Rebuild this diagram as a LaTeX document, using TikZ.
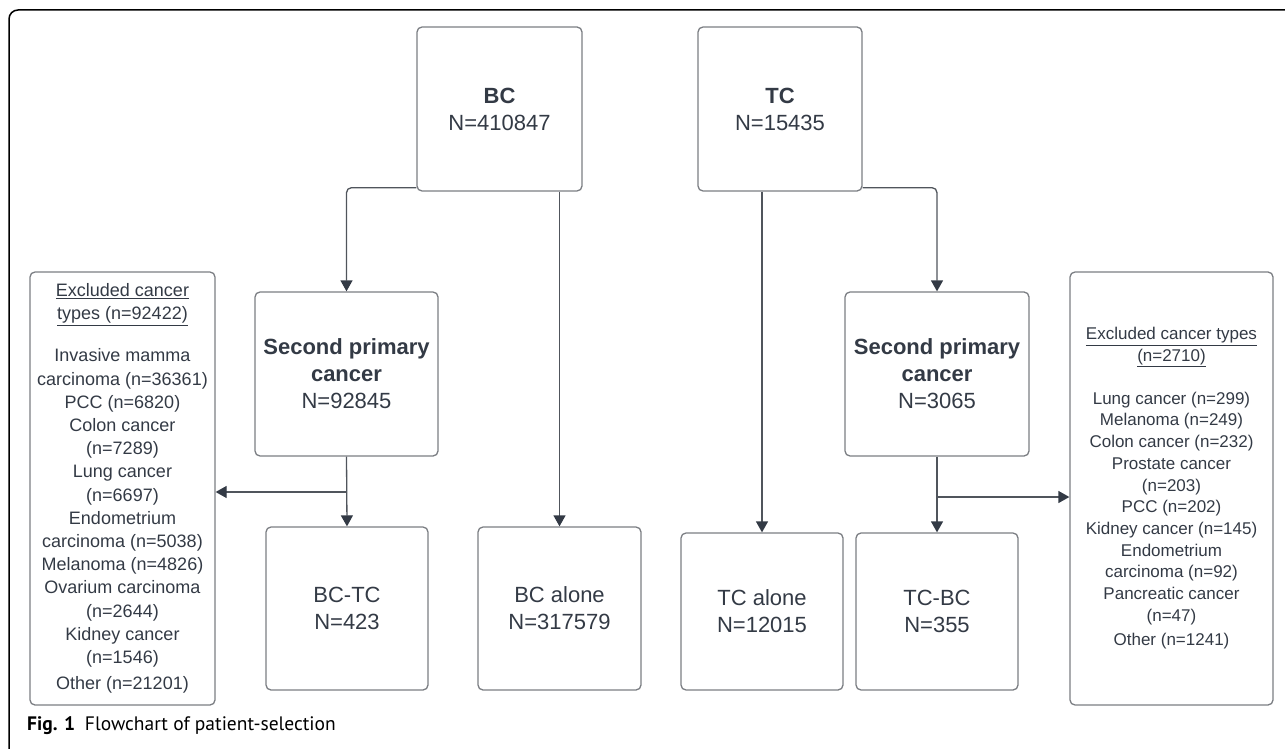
\documentclass[tikz,border=0pt]{standalone}
\usepackage{fontspec}
\setmainfont{Liberation Sans}
\newfontfamily\capfont{PT Sans}
\usetikzlibrary{arrows.meta}
\definecolor{ink}{HTML}{333A45}
\definecolor{edge}{HTML}{7B7E83}
\definecolor{wire}{HTML}{50555C}
\tikzset{
      stage/.style={draw=edge, line width=1.3, rounded corners=5pt, text=ink, align=center,
            inner sep=0pt, font=\fontsize{22}{27}\selectfont},
      excl/.style={draw=edge, line width=1.3, rounded corners=5pt, text=ink, align=center,
            inner sep=0pt},
      link/.style={draw=wire, line width=1.3, rounded corners=5pt,
            -{Triangle[length=11pt,width=12pt,color=ink]}},
}

\begin{document}
\begin{tikzpicture}[x=1pt, y=-1pt]

        \useasboundingbox (0,0) rectangle (1285,749);
        \draw[line width=1.5, rounded corners=9pt] (9,10) rectangle (1300,762);

        \node[stage, minimum width=165pt, minimum height=164pt] (bc) at (499.5,109) {\textbf{BC}\\N=410847};
        \node[stage, minimum width=164pt, minimum height=164pt] (tc) at (780,109) {\textbf{TC}\\N=15435};

        \node[stage, minimum width=183pt, minimum height=164pt] (spcl) at (346.5,374)
              {\textbf{Second primary}\\\textbf{cancer}\\N=92845};
        \node[stage, minimum width=184pt, minimum height=164pt] (spcr) at (937,374)
              {\textbf{Second primary}\\\textbf{cancer}\\N=3065};

        \node[stage, minimum width=162pt, minimum height=163pt] (bctc) at (347,608.5) {BC-TC\\N=423};
        \node[stage, minimum width=163pt, minimum height=163pt] (bcalone) at (559.5,608.5) {BC alone\\N=317579};
        \node[stage, minimum width=162pt, minimum height=157pt] (tcalone) at (762,611.5) {TC alone\\N=12015};
        \node[stage, minimum width=162pt, minimum height=157pt] (tcbc) at (937,611.5) {TC-BC\\N=355};

        \node[excl, minimum width=185pt, minimum height=433pt, font=\fontsize{18}{23.2}\selectfont] (exl) at (122.5,488.5)
              {\underline{Excluded cancer}\\\underline{types (n=92422)}\\[19pt]
               Invasive mamma\\carcinoma (n=36361)\\PCC (n=6820)\\Colon cancer\\(n=7289)\\Lung cancer\\(n=6697)\\
               Endometrium\\carcinoma (n=5038)\\Melanoma (n=4826)\\Ovarium carcinoma\\(n=2644)\\Kidney cancer\\
               (n=1546)\\[3pt]Other (n=21201)};
        \node[excl, minimum width=203pt, minimum height=433pt, font=\fontsize{17}{21.7}\selectfont] (exr) at (1171.5,488.5)
              {\underline{Excluded cancer types}\\\underline{(n=2710)}\\[21pt]
               Lung cancer (n=299)\\Melanoma (n=249)\\Colon cancer (n=232)\\Prostate cancer\\(n=203)\\PCC (n=202)\\
               Kidney cancer (n=145)\\Endometrium\\carcinoma (n=92)\\Pancreatic cancer\\(n=47)\\[3pt]Other (n=1241)};

        \coordinate (jl) at (347,492);
        \coordinate (jr) at (937,497);

        \draw[link] ([yshift=4pt]bc.south west) -| (spcl.north);
        \draw[link] (bcalone.north |- bc.south) -- (bcalone.north);
        \draw[link] (tcalone.north |- tc.south) -- (tcalone.north);
        \draw[link] ([yshift=4pt]tc.south east) -| (spcr.north);
        \draw[link] (spcl.south) -- (bctc.north);
        \draw[link] (spcr.south) -- (tcbc.north);
        \draw[link] (jl) -- (jl -| exl.east);
        \draw[link] (jr) -- (jr -| exr.west);

        \node[anchor=base west, inner sep=0pt, font=\capfont\fontsize{19.5}{22}\selectfont] (cap) at (27,730)
              {\textbf{Fig. 1}\enspace Flowchart of patient-selection};

\end{tikzpicture}
\end{document}
